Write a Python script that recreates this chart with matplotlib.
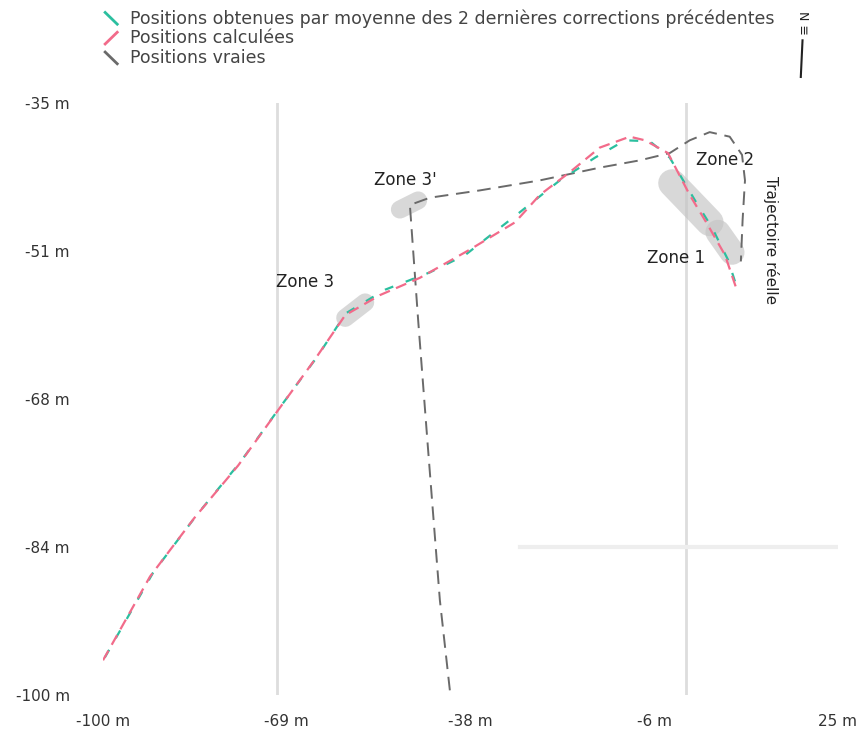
import matplotlib

matplotlib.use("Agg")
import matplotlib.pyplot as plt
from matplotlib.lines import Line2D

# Données (en mètres)
calc_x = [-100.0, -92.0, -84.5, -77.0, -70.4, -64.0, -58.8, -52.9, -46.1, -37.6,
          -29.9, -25.7, -20.6, -15.5, -10.4, -7.8, -3.9, -0.2, 2.7, 5.8, 7.8]
calc_y = [-96.2, -87.0, -80.6, -74.8, -68.9, -63.2, -58.3, -56.1, -54.2, -51.1,
          -48.1, -45.1, -42.6, -39.9, -38.7, -39.1, -40.5, -45.1, -48.2, -51.7, -55.5]

moy_x = [-99.7, -91.5, -84.0, -76.6, -70.1, -63.6, -58.7, -52.0, -44.4, -38.4,
         -29.1, -22.3, -16.3, -11.2, -7.0, -3.6, 0.7, 3.6, 6.3, 7.7]
moy_y = [-95.9, -86.6, -80.2, -74.4, -68.6, -62.9, -58.1, -55.5, -53.6, -51.7,
         -47.0, -43.5, -41.0, -39.1, -39.2, -41.0, -45.7, -48.7, -52.2, -55.0]

vraies_x = [-41.0, -42.7, -44.7, -46.4, -47.8, -44.4, -35.9, -25.7, -15.5, -8.7,
            -3.6, -0.2, 3.2, 6.6, 8.7, 9.2, 8.8, 8.5]
vraies_y = [-99.5, -89.6, -73.1, -58.8, -46.2, -45.4, -44.6, -43.5, -42.1, -41.3,
            -40.5, -39.1, -38.2, -38.7, -40.7, -43.5, -47.8, -52.4]

zones = ["Zone 3", "Zone 3'", "Zone 2", "Zone 1"]
zone_x = [(-58.8, -55.4), (-49.5, -46.4), (-3.2, 3.2), (4.6, 7.0)]
zone_y = [(-58.6, -56.9), (-46.7, -45.7), (-43.8, -48.1), (-49.2, -51.4)]
zone_w = [13, 13, 20, 18]
zone_lbl_x = [-65.6, -48.6, 5.8, -2.6]
zone_lbl_y = [-54.7, -43.5, -41.3, -52.0]

x_ticks = [-100, -68.75, -37.5, -6.25, 25]
y_ticks = [-35, -51.25, -67.5, -83.75, -100]

C_MOY = "#2bbf9f"
C_CALC = "#f26b8a"
C_VRAI = "#6a6a6a"
TXT = "#333333"

fig = plt.figure(figsize=(8.62, 7.33), dpi=100)
ax = fig.add_axes([0.1195, 0.052, 0.8525, 0.8075])

# lignes de repère
for gx in [-70.4, -0.9]:
    ax.axvline(gx, color="#dddddd", linewidth=2, zorder=0)
ax.plot([-29, 25], [-83.75, -83.75], color="#eeeeee", linewidth=3, zorder=0)

# zones
for zx, zy, w in zip(zone_x, zone_y, zone_w):
    ax.plot(zx, zy, color="#c4c4c4", alpha=0.65, linewidth=w,
            solid_capstyle="round", zorder=1)

ax.plot(vraies_x, vraies_y, color=C_VRAI, linewidth=1.4, dashes=(7, 4), zorder=2)
ax.plot(moy_x, moy_y, color=C_MOY, linewidth=1.6, dashes=(4, 6), zorder=3)
ax.plot(calc_x, calc_y, color=C_CALC, linewidth=1.6, dashes=(5, 3), zorder=4)

for name, lx, ly in zip(zones, zone_lbl_x, zone_lbl_y):
    ax.text(lx, ly, name, ha="center", va="center", fontsize=12, color="#222222")

ax.text(13.6, -50.0, "Trajectoire réelle", rotation=-90, ha="center", va="center",
        fontsize=11, color="#222222")

ax.set_xlim(-100, 25)
ax.set_ylim(-100, -35)
ax.set_xticks(x_ticks)
ax.set_xticklabels([f"{round(v)} m" for v in x_ticks])
ax.set_yticks(y_ticks)
ax.set_yticklabels([f"{round(v)} m" for v in y_ticks])
ax.tick_params(length=0, labelsize=11, labelcolor=TXT)
ax.tick_params(axis="x", pad=14)
ax.tick_params(axis="y", pad=24)
for s in ax.spines.values():
    s.set_visible(False)

# légende manuelle
legend_items = [
    (C_MOY, "Positions obtenues par moyenne des 2 dernières corrections précédentes"),
    (C_CALC, "Positions calculées"),
    (C_VRAI, "Positions vraies"),
]
for i, (col, lab) in enumerate(legend_items):
    y0 = 0.975 - i * 0.027
    slope = 0.008 if i != 1 else -0.008
    fig.add_artist(Line2D([0.122, 0.136], [y0 + slope, y0 - slope], color=col,
                          linewidth=2, transform=fig.transFigure))
    fig.text(0.151, y0, lab, va="center", fontsize=12.5, color="#444444")

# indicateur en haut à droite
fig.text(0.931, 0.985, "N ≡", rotation=-90, ha="center", va="top", fontsize=9,
         color="#222222")
fig.add_artist(Line2D([0.931, 0.929], [0.945, 0.895], color="#222222",
                      linewidth=1.5, transform=fig.transFigure))

fig.savefig("out.png", dpi=100)
plt.close(fig)
